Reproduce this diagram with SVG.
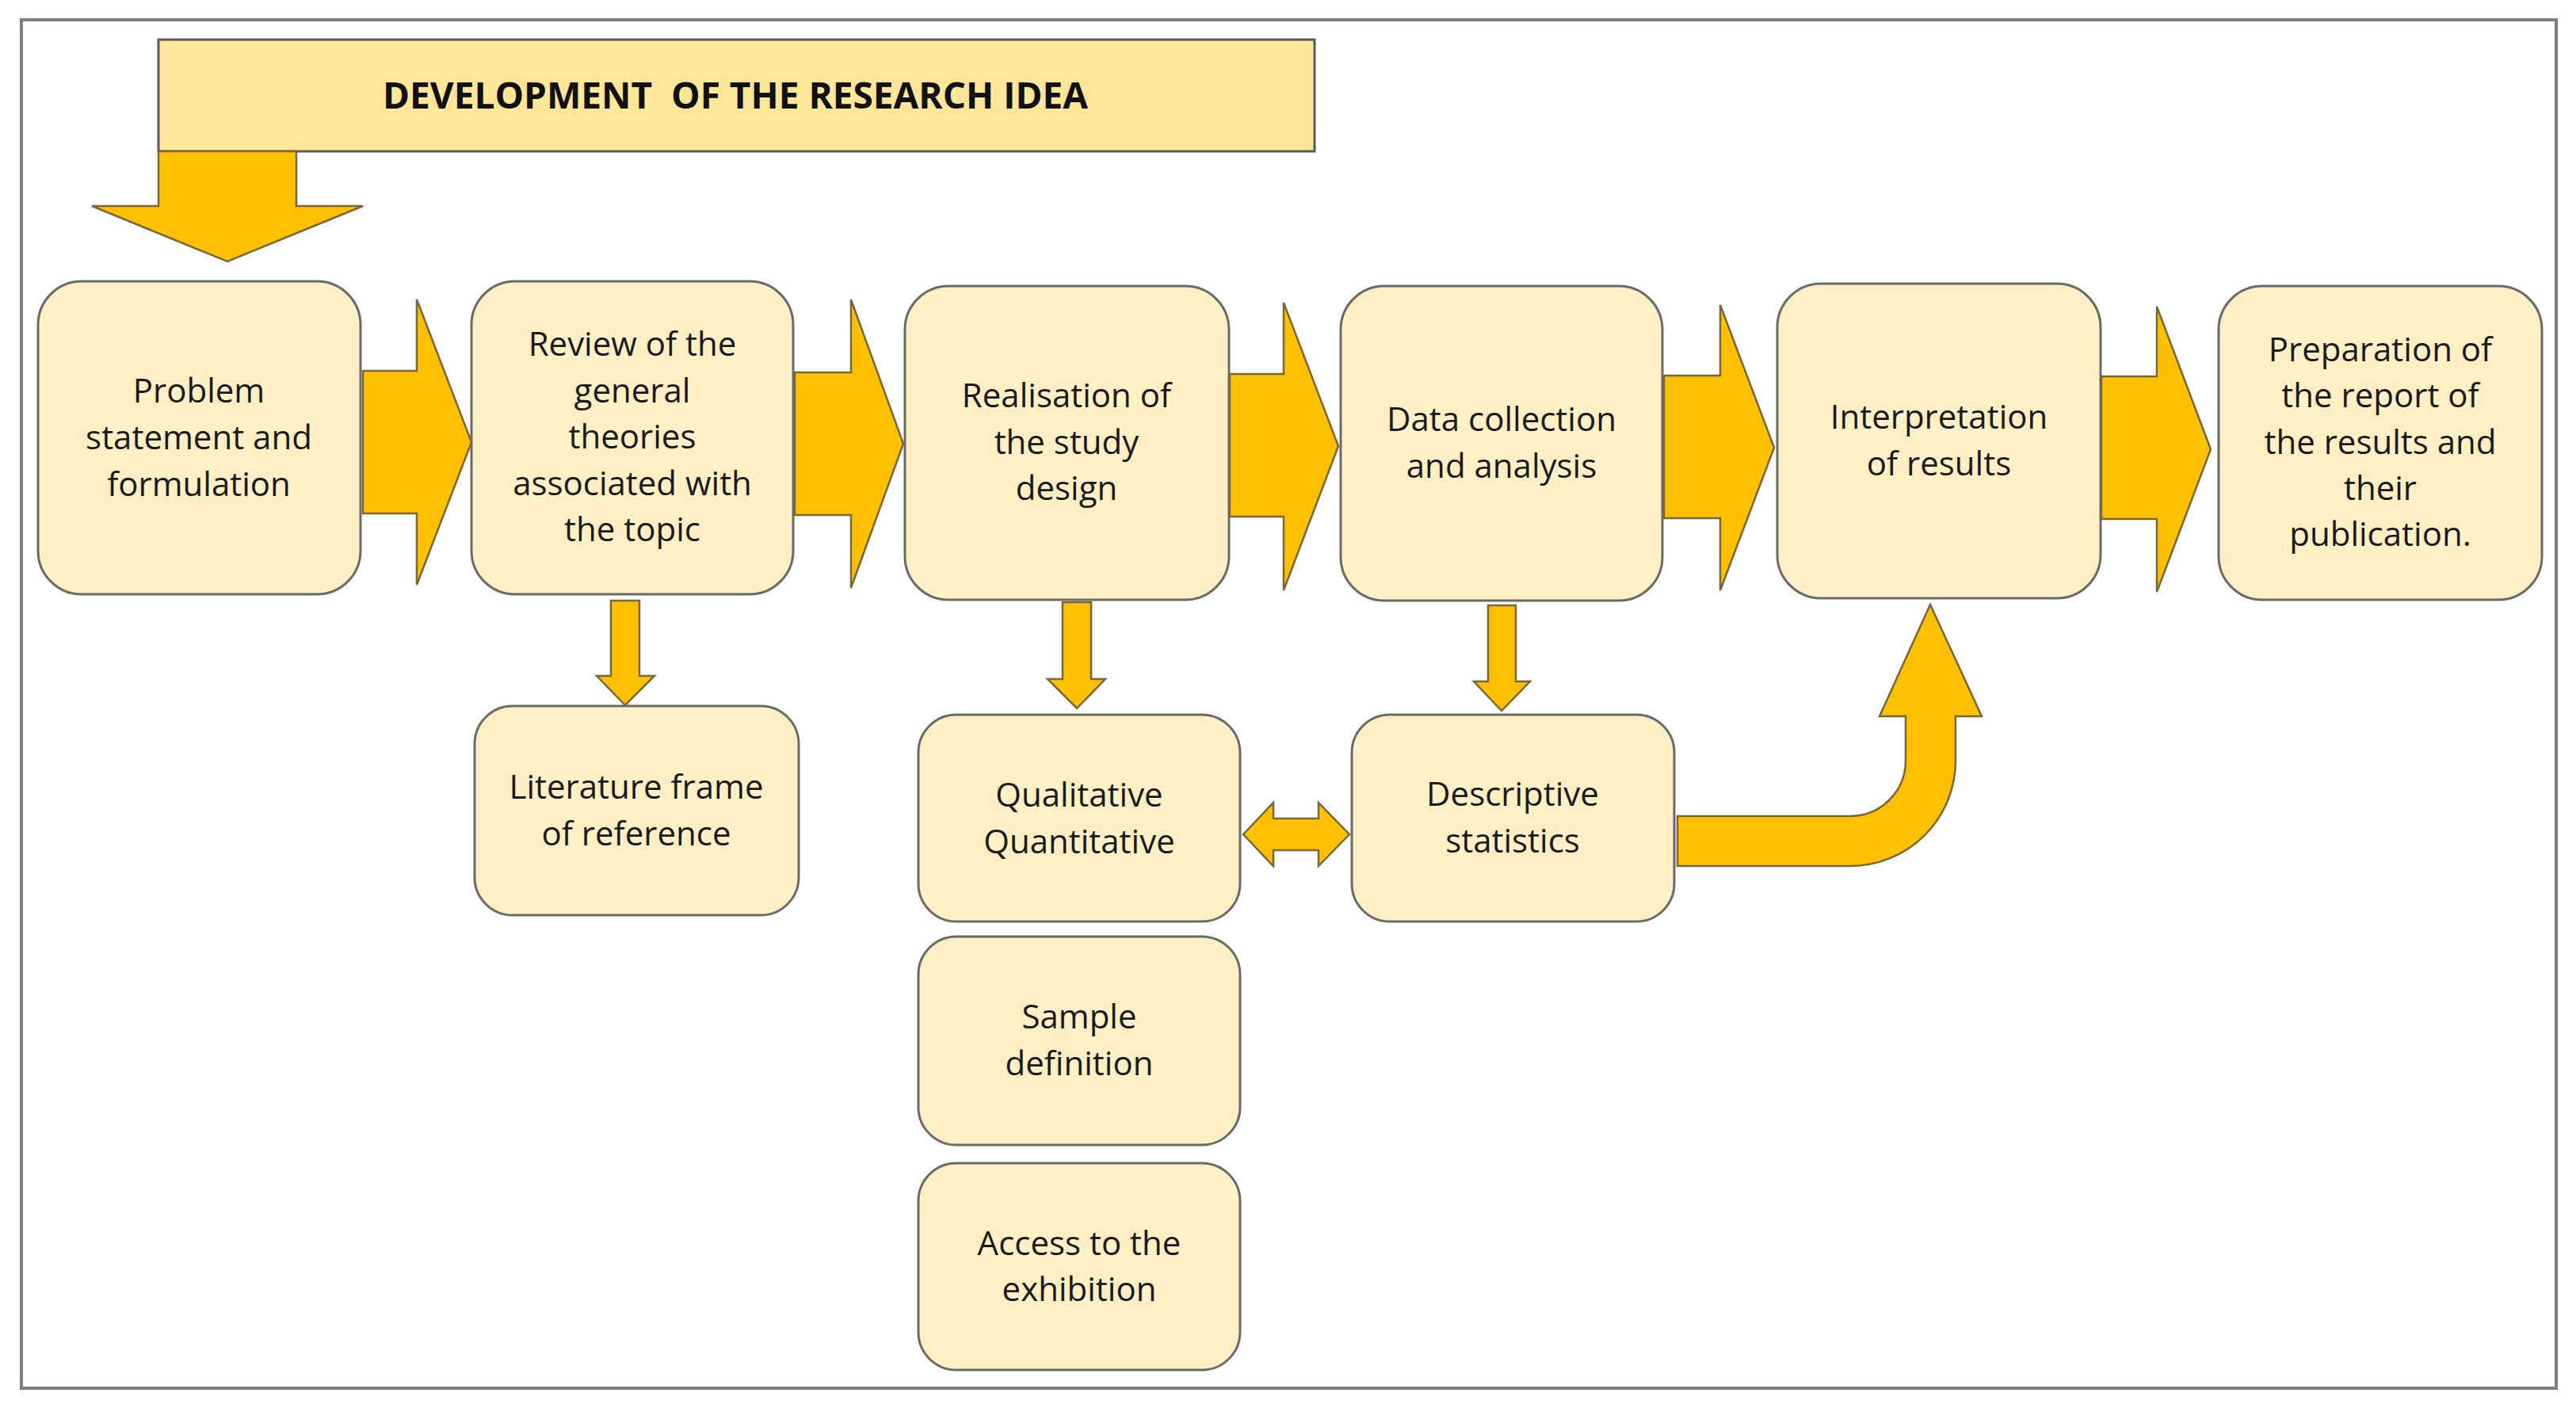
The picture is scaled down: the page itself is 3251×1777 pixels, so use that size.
<svg xmlns="http://www.w3.org/2000/svg" width="3251" height="1777" viewBox="0 0 3251 1777">
<style>
.box{fill:#FFEFC4;stroke:#6a6a6a;stroke-width:3}
.hdr{fill:#FFE699;stroke:#5a5a5a;stroke-width:3}
.arr{fill:#FFC000;stroke:#76683c;stroke-width:2.5;stroke-linejoin:miter}
.t{font-family:"Open Sans","Liberation Sans",sans-serif;font-size:42px;fill:#1a1a1a;text-anchor:middle}
.tt{font-family:"Open Sans","Liberation Sans",sans-serif;font-size:46px;font-weight:bold;fill:#111;text-anchor:middle}
</style>
<rect x="0" y="0" width="3251" height="1777" fill="#ffffff"/>
<rect x="27" y="25" width="3199" height="1727" fill="none" stroke="#7f7f7f" stroke-width="4"/>

<g id="title">
<rect class="hdr" x="200" y="50" width="1459" height="141"/>
<text class="tt" x="928" y="137" xml:space="preserve">DEVELOPMENT  OF THE RESEARCH IDEA</text>
</g>

<g id="n1">
<rect class="box" x="48" y="355" width="407" height="395" rx="55"/>
<text class="t" x="251" y="508">Problem</text>
<text class="t" x="251" y="567">statement and</text>
<text class="t" x="251" y="626">formulation</text>
</g>
<g id="n2">
<rect class="box" x="595" y="355" width="406" height="395" rx="55"/>
<text class="t" x="798" y="449">Review of the</text>
<text class="t" x="798" y="508">general</text>
<text class="t" x="798" y="566">theories</text>
<text class="t" x="798" y="625">associated with</text>
<text class="t" x="798" y="683">the topic</text>
</g>
<g id="n3">
<rect class="box" x="1142" y="361" width="409" height="396" rx="55"/>
<text class="t" x="1346" y="514">Realisation of</text>
<text class="t" x="1346" y="573">the study</text>
<text class="t" x="1346" y="631">design</text>
</g>
<g id="n4">
<rect class="box" x="1692" y="361" width="406" height="397" rx="55"/>
<text class="t" x="1895" y="544">Data collection</text>
<text class="t" x="1895" y="603">and analysis</text>
</g>
<g id="n5">
<rect class="box" x="2243" y="358" width="408" height="397" rx="55"/>
<text class="t" x="2447" y="541">Interpretation</text>
<text class="t" x="2447" y="600">of results</text>
</g>
<g id="n6">
<rect class="box" x="2800" y="361" width="408" height="396" rx="55"/>
<text class="t" x="3004" y="456">Preparation of</text>
<text class="t" x="3004" y="514">the report of</text>
<text class="t" x="3004" y="573">the results and</text>
<text class="t" x="3004" y="631">their</text>
<text class="t" x="3004" y="689">publication.</text>
</g>
<g id="n7">
<rect class="box" x="599" y="891" width="409" height="264" rx="48"/>
<text class="t" x="803" y="1008">Literature frame</text>
<text class="t" x="803" y="1067">of reference</text>
</g>
<g id="n8">
<rect class="box" x="1159" y="902" width="406" height="261" rx="48"/>
<text class="t" x="1362" y="1018">Qualitative</text>
<text class="t" x="1362" y="1077">Quantitative</text>
</g>
<g id="n9">
<rect class="box" x="1706" y="902" width="407" height="261" rx="48"/>
<text class="t" x="1909" y="1017">Descriptive</text>
<text class="t" x="1909" y="1076">statistics</text>
</g>
<g id="n10">
<rect class="box" x="1159" y="1182" width="406" height="263" rx="48"/>
<text class="t" x="1362" y="1298">Sample</text>
<text class="t" x="1362" y="1357">definition</text>
</g>
<g id="n11">
<rect class="box" x="1159" y="1468" width="406" height="261" rx="48"/>
<text class="t" x="1362" y="1584">Access to the</text>
<text class="t" x="1362" y="1642">exhibition</text>
</g>

<g id="connectors">
<polygon class="arr" points="200,191 374,191 374,260 458,260 287,330 116,260 200,260"/>
<polygon class="arr" points="458,468 526,468 526,378 595,558 526,738 526,648 458,648"/>
<polygon class="arr" points="1003,470 1074,470 1074,378 1140,560 1074,742 1074,650 1003,650"/>
<polygon class="arr" points="1552,472 1620,472 1620,382 1689,563 1620,745 1620,652 1552,652"/>
<polygon class="arr" points="2100,474 2171,474 2171,385 2239,565 2171,745 2171,654 2100,654"/>
<polygon class="arr" points="2652,475 2722,475 2722,387 2790,567 2722,747 2722,655 2652,655"/>
<polygon class="arr" points="771,758 807,758 807,853 826,853 789,890 753,853 771,853"/>
<polygon class="arr" points="1341,760 1377,760 1377,857 1395,857 1359,894 1322,857 1341,857"/>
<polygon class="arr" points="1878,764 1913,764 1913,860 1931,860 1895,897 1860,860 1878,860"/>
<polygon class="arr" points="1569,1053 1607,1013 1607,1033 1664,1033 1664,1013 1703,1053 1664,1093 1664,1073 1607,1073 1607,1093"/>
<path class="arr" d="M2117,1030 L2335,1030 A70,70 0 0 0 2405,960 L2405,904 L2372,904 L2436,763 L2501,904 L2468,904 L2468,960 A133,133 0 0 1 2335,1093 L2117,1093 Z"/>
</g>
</svg>
